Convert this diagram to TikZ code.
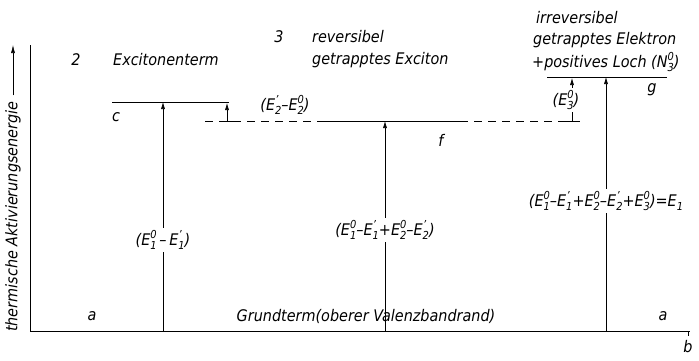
\documentclass[tikz,border=0pt]{standalone}
\usepackage{fontspec}
\setmainfont{DejaVu Sans Condensed}
\usetikzlibrary{arrows.meta}
\newcommand{\ssc}[2]{\rlap{\raisebox{-0.5ex}{\fontsize{11}{11}\selectfont#1}}\rlap{\raisebox{0.85ex}{\fontsize{11}{11}\selectfont#2}}\hphantom{\fontsize{11}{11}\selectfont#1}}
\begin{document}
\begin{tikzpicture}[x=1pt,y=-1pt,
  every node/.style={font=\fontsize{16}{18}\selectfont\itshape, inner sep=1pt},
  lvl/.style={line width=0.8pt},
  dlvl/.style={line width=0.8pt, dash pattern=on 8pt off 6pt},
  arr/.style={line width=0.6pt, -{Latex[length=7pt,width=4pt]}},
  ax/.style={line width=0.7pt},
  lab/.style={fill=white, inner sep=2pt}]
\useasboundingbox (0,0) rectangle (699,360);
% axes
\coordinate (O) at (30,331);
\coordinate (Ytop) at (30,45);
\coordinate (Xend) at (690,331);
\draw[ax] (Ytop) -- (O) -- (Xend);
\coordinate (bt1) at (688,331);
\coordinate (bt2) at (688,336);
\draw[line width=0.5pt] (bt1) -- (bt2);
% y label
\node[rotate=90, anchor=west] (ylab) at (13,333) {thermische Aktivierungsenergie};
\coordinate (yarrtop) at (13,45);
\draw[line width=0.6pt, -{Latex[length=8pt,width=4pt]}] ([yshift=5pt]ylab.east) -- (yarrtop);
% levels
\coordinate (c1) at (112,102);
\coordinate (c2) at (229,102);
\draw[lvl] (c1) -- (c2);
\coordinate (f1) at (205,121);
\coordinate (f2) at (318,121);
\coordinate (f3) at (460,121);
\coordinate (f4) at (580,121);
\draw[dlvl] (f1) -- (f2);
\draw[lvl] (f2) -- (f3);
\draw[dlvl] (f3) -- (f4);
\coordinate (g1) at (547,77);
\coordinate (g2) at (667,77);
\draw[lvl] (g1) -- (g2);
% main arrows
\coordinate (a1b) at (163,331);
\coordinate (a1t) at (163,102);
\coordinate (a2b) at (385,331);
\coordinate (a2t) at (385,121);
\coordinate (a3b) at (606,331);
\coordinate (a3t) at (606,77);
\draw[arr] (a1b) -- (a1t);
\draw[arr] (a2b) -- (a2t);
\draw[arr] (a3b) -- (a3t);
% small arrows with ticks
\coordinate (s1b) at (227,121);
\coordinate (s1t) at (227,103);
\coordinate (s1l) at (221,121);
\coordinate (s1r) at (233,121);
\draw[arr] (s1b) -- (s1t);
\draw[line width=0.8pt] (s1l) -- (s1r);
\coordinate (s2b) at (572,121);
\coordinate (s2t) at (572,78);
\coordinate (s2l) at (565,121);
\coordinate (s2r) at (580,121);
\draw[line width=0.6pt] (s2l) -- (s2r);
% labels on arrows (white background)
\node[lab] (l1) at (163,240) {(E\ssc{1}{0}\,--\,E\ssc{1}{\kern0.3pt'})};
\node[lab] (l2) at (385,230) {(E\ssc{1}{0}--E\ssc{1}{\kern0.3pt'}+E\ssc{2}{0}--E\ssc{2}{\kern0.3pt'})};
\node[lab] (l3) at (606,201) {(E\ssc{1}{0}--E\ssc{1}{\kern0.3pt'}+E\ssc{2}{0}--E\ssc{2}{\kern0.3pt'}+E\ssc{3}{0})=E\ssc{1}{}};
\node[lab] (l4) at (566,100) {(E\ssc{3}{0})};
\draw[arr] (l4.north -| s2b) -- (s2t);
\draw[line width=0.6pt] (s2b) -- (l4.south -| s2b);
% other labels
\node (n2) at (76,60) {2};
\node[anchor=west] (exc) at (112,60) {Excitonenterm};
\node (n3) at (279,37) {3};
\node[anchor=west] (rev) at (311,37) {reversibel};
\node[anchor=west] (getx) at (311,60) {getrapptes Exciton};
\node[anchor=west] (irr) at (535,18) {irreversibel};
\node[anchor=west] (gete) at (532,40) {getrapptes Elektron};
\node[anchor=west] (pos) at (531,62) {+positives Loch (N\ssc{3}{0})};
\node (lc) at (116,117) {c};
\node (le2) at (285,105) {(E\ssc{2}{\kern0.3pt'}--E\ssc{2}{0})};
\node (lf) at (441,140) {f};
\node (lg) at (652,90) {g};
\node (la1) at (92,316) {a};
\node (grund) at (366,316) {Grundterm(oberer Valenzbandrand)};
\node (la2) at (663,316) {a};
\node (lb) at (688,347) {b};
\end{tikzpicture}
\end{document}
